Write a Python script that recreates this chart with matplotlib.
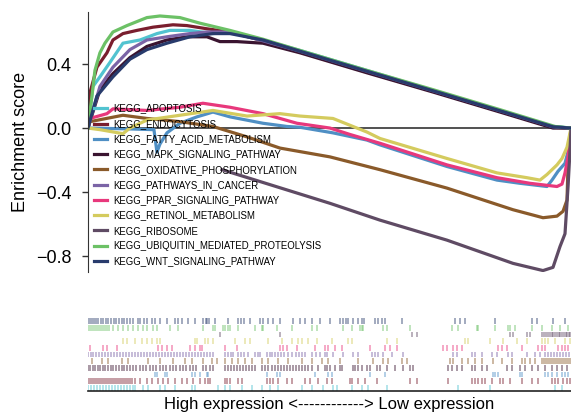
import matplotlib
matplotlib.use("Agg")
import matplotlib.pyplot as plt

plt.rcParams['font.family'] = ['Liberation Sans', 'DejaVu Sans']

# ---- data (x = position in ranked gene list, scaled 0..483) ----
gene_sets = ["KEGG_APOPTOSIS", "KEGG_ENDOCYTOSIS", "KEGG_FATTY_ACID_METABOLISM",
             "KEGG_MAPK_SIGNALING_PATHWAY", "KEGG_OXIDATIVE_PHOSPHORYLATION",
             "KEGG_PATHWAYS_IN_CANCER", "KEGG_PPAR_SIGNALING_PATHWAY",
             "KEGG_RETINOL_METABOLISM", "KEGG_RIBOSOME",
             "KEGG_UBIQUITIN_MEDIATED_PROTEOLYSIS", "KEGG_WNT_SIGNALING_PATHWAY"]
colors = ["#52c3d0", "#7a1e2e", "#4f8fc4", "#3a1430", "#8a5a2a", "#7b64a6",
          "#e8387c", "#d4cb5e", "#5f4b64", "#6cc166", "#283b6c"]

apoptosis_x = [0, 5, 12, 22, 35, 52, 69, 82, 102, 125, 142, 175, 212, 279, 345, 412, 465, 483]
apoptosis_es = [0, 0.26, 0.32, 0.41, 0.53, 0.55, 0.59, 0.61, 0.61, 0.59, 0.60, 0.55, 0.485, 0.36, 0.235, 0.11, 0.01, 0]
endocytosis_x = [0, 1, 2, 9, 19, 25, 35, 49, 65, 85, 99, 119, 142, 175, 212, 279, 345, 412, 465, 483]
endocytosis_es = [0, 0.11, 0.22, 0.38, 0.47, 0.55, 0.59, 0.61, 0.63, 0.645, 0.64, 0.62, 0.60, 0.545, 0.475, 0.35, 0.23, 0.105, 0.005, 0]
fatty_x = [0, 40, 66, 69, 72, 79, 92, 109, 125, 142, 175, 199, 212, 245, 279, 292, 359, 409, 432, 459, 464, 470, 477, 482, 483]
fatty_es = [0, -0.005, -0.01, -0.15, -0.10, -0.03, 0.03, 0.07, 0.10, 0.07, 0.03, 0.01, 0.005, -0.03, -0.075, -0.105, -0.24, -0.325, -0.345, -0.365, -0.325, -0.27, -0.22, -0.10, 0]
mapk_x = [0, 12, 25, 42, 59, 79, 99, 119, 132, 149, 175, 212, 279, 345, 412, 465, 483]
mapk_es = [0, 0.24, 0.34, 0.44, 0.51, 0.55, 0.57, 0.57, 0.54, 0.54, 0.53, 0.47, 0.345, 0.225, 0.10, 0.0, 0]
oxphos_x = [0, 2, 35, 59, 92, 125, 159, 192, 242, 292, 359, 425, 455, 469, 475, 479, 480, 483]
oxphos_es = [0, 0.04, 0.08, 0.06, 0.04, 0.01, -0.055, -0.125, -0.18, -0.26, -0.375, -0.51, -0.56, -0.55, -0.52, -0.45, -0.24, 0]
cancer_x = [0, 12, 25, 42, 59, 79, 102, 119, 142, 175, 212, 279, 345, 412, 465, 483]
cancer_es = [0, 0.26, 0.38, 0.49, 0.55, 0.57, 0.59, 0.60, 0.60, 0.545, 0.48, 0.355, 0.233, 0.108, 0.008, 0]
ppar_x = [0, 2, 19, 25, 59, 92, 115, 142, 175, 192, 209, 242, 262, 292, 359, 409, 442, 469, 474, 477, 480, 483]
ppar_es = [0, 0.06, 0.09, 0.12, 0.11, 0.13, 0.155, 0.13, 0.09, 0.06, 0.03, 0.0, -0.04, -0.095, -0.23, -0.31, -0.345, -0.365, -0.35, -0.28, -0.18, 0]
retinol_x = [0, 12, 35, 42, 59, 92, 125, 159, 192, 212, 245, 279, 292, 359, 409, 439, 452, 459, 469, 474, 479, 483]
retinol_es = [0, -0.01, -0.035, 0.0, 0.05, 0.08, 0.11, 0.075, 0.09, 0.075, 0.06, -0.025, -0.065, -0.19, -0.28, -0.31, -0.325, -0.29, -0.23, -0.19, -0.12, 0]
ribosome_x = [134, 242, 292, 359, 425, 455, 465, 472, 477, 480, 482, 483]
ribosome_es = [-0.26, -0.47, -0.575, -0.70, -0.845, -0.89, -0.87, -0.74, -0.66, -0.37, -0.14, 0]
ubiquitin_x = [0, 4, 7, 12, 17, 25, 39, 59, 72, 92, 112, 142, 175, 212, 279, 345, 412, 467, 483]
ubiquitin_es = [0, 0.2, 0.36, 0.47, 0.53, 0.60, 0.64, 0.69, 0.70, 0.69, 0.655, 0.61, 0.555, 0.485, 0.36, 0.24, 0.115, 0.01, 0]
wnt_x = [0, 9, 25, 42, 59, 79, 102, 125, 142, 175, 212, 279, 345, 412, 465, 483]
wnt_es = [0, 0.20, 0.32, 0.43, 0.49, 0.53, 0.57, 0.59, 0.59, 0.55, 0.48, 0.355, 0.233, 0.108, 0.008, 0]

# gene-set member positions in the ranked list
apoptosis_hits = [0, 3, 6, 9, 12, 15, 18, 21, 24, 27, 30, 33, 36, 39, 42, 45, 47, 55, 60, 72, 77, 87, 104, 107,
                  130, 137, 142, 154, 164, 174, 182, 190, 214, 224, 235, 245, 249, 264, 274, 280, 299, 370, 402, 467, 474]
endocytosis_hits = [0, 2, 4, 6, 8, 10, 12, 14, 16, 18, 20, 22, 24, 26, 28, 30, 32, 34, 36, 38, 40, 42, 44, 47, 52,
                    59, 64, 70, 75, 80, 87, 94, 99, 105, 112, 117, 120, 122, 137, 139, 142, 150, 154, 179, 182, 185,
                    190, 199, 204, 217, 222, 230, 239, 244, 262, 264, 270, 277, 289, 322, 329, 360, 384, 387, 390,
                    394, 397, 404, 412, 415, 422, 434, 444, 450, 464, 467, 470, 475, 479, 482]
fatty_hits = [67, 69, 77, 79, 104, 107, 112, 119, 120, 179, 189, 192, 227, 240, 244, 282, 297, 405, 407, 410,
              432, 434, 457, 460, 464, 469, 474, 477, 480]
mapk_hits = [0, 2, 5, 7, 10, 12, 15, 17, 20, 23, 25, 28, 31, 34, 36, 39, 42, 45, 48, 52, 55, 58, 62, 65, 68, 72,
             75, 78, 82, 85, 88, 92, 95, 98, 102, 105, 108, 115, 118, 122, 125, 137, 140, 143, 146, 149, 152, 155,
             158, 161, 164, 167, 174, 177, 180, 184, 187, 190, 193, 196, 199, 202, 205, 208, 211, 214, 217, 220,
             224, 230, 237, 239, 242, 247, 252, 254, 265, 267, 270, 274, 279, 282, 289, 292, 299, 307, 315, 322,
             325, 360, 364, 369, 374, 384, 387, 394, 399, 419, 424, 432, 437, 444, 450, 457, 464, 469, 474, 479]
oxphos_hits = [4, 14, 20, 34, 40, 60, 72, 85, 97, 104, 115, 124, 129, 137, 144, 150, 157, 164, 174, 180, 190,
               200, 214, 224, 234, 240, 252, 270, 285, 295, 300, 314, 319, 362, 365, 374, 380, 387, 394, 405,
               414, 424, 434, 437, 442, 447, 454, 456, 458, 460, 462, 464, 466, 468, 470, 472, 474, 476, 478,
               480, 482]
cancer_hits = [0, 3, 5, 8, 11, 14, 17, 20, 23, 26, 29, 32, 35, 38, 41, 44, 47, 50, 53, 56, 59, 62, 65, 68, 71,
               74, 77, 80, 83, 86, 89, 92, 95, 98, 101, 104, 107, 110, 113, 116, 119, 122, 125, 137, 140, 143,
               145, 150, 153, 156, 160, 167, 170, 172, 179, 182, 184, 187, 190, 193, 196, 200, 204, 208, 211,
               214, 217, 224, 228, 232, 237, 239, 245, 255, 265, 270, 284, 287, 290, 295, 304, 315, 365, 369,
               384, 387, 394, 404, 409, 420, 424, 439, 447, 452, 457, 460, 463, 466, 469, 472, 475, 478, 481]
ppar_hits = [2, 15, 19, 29, 70, 74, 79, 84, 102, 107, 112, 114, 137, 149, 192, 195, 199, 209, 227, 237, 240,
             247, 254, 282, 297, 302, 309, 355, 359, 365, 369, 374, 410, 414, 419, 434, 450, 454, 457, 470,
             474, 477, 480]
retinol_hits = [35, 39, 47, 54, 59, 64, 69, 72, 107, 109, 117, 120, 125, 147, 157, 162, 180, 194, 204, 210,
                214, 220, 229, 244, 260, 264, 299, 309, 377, 380, 402, 415, 429, 439, 454, 457, 460, 467, 477, 482]
ribosome_hits = [132, 192, 324, 329, 422, 425, 439, 442, 454, 456, 458, 460, 462, 464, 465, 467, 469, 471,
                 472, 474, 476, 478, 479, 481, 482]
ubiquitin_hits = [1, 3, 5, 7, 9, 11, 13, 15, 17, 19, 21, 25, 30, 35, 40, 45, 50, 55, 59, 65, 69, 82, 90, 115,
                  125, 127, 135, 137, 140, 142, 150, 167, 174, 175, 189, 204, 224, 229, 255, 264, 272, 274, 275,
                  295, 299, 322, 364, 370, 389, 390, 407, 420, 422, 427, 444, 454, 464, 472, 480]
wnt_hits = [0, 2, 4, 6, 8, 10, 13, 15, 18, 20, 23, 26, 28, 31, 34, 36, 39, 42, 45, 50, 52, 56, 59, 64, 67, 72,
            79, 87, 90, 94, 100, 107, 115, 118, 119, 121, 127, 140, 150, 153, 156, 162, 172, 175, 180, 185, 192,
            205, 212, 217, 224, 232, 242, 252, 255, 258, 260, 265, 270, 274, 276, 287, 290, 294, 297, 314, 367,
            372, 377, 407, 444, 449, 465, 477]

curves = [(apoptosis_x, apoptosis_es), (endocytosis_x, endocytosis_es), (fatty_x, fatty_es),
          (mapk_x, mapk_es), (oxphos_x, oxphos_es), (cancer_x, cancer_es), (ppar_x, ppar_es),
          (retinol_x, retinol_es), (ribosome_x, ribosome_es), (ubiquitin_x, ubiquitin_es), (wnt_x, wnt_es)]
hits = [apoptosis_hits, endocytosis_hits, fatty_hits, mapk_hits, oxphos_hits, cancer_hits, ppar_hits,
        retinol_hits, ribosome_hits, ubiquitin_hits, wnt_hits]
x_max = 483

# ---- figure ----
fig = plt.figure(figsize=(5.71, 4.13), dpi=100)
ax = fig.add_axes([0.154, 0.341, 0.846, 0.630])
ax2 = fig.add_axes([0.154, 0.053, 0.846, 0.182])

for name, col, (xs, ys) in zip(gene_sets, colors, curves):
    ax.plot(xs, ys, color=col, lw=2.3, label=name, solid_joinstyle='round')
ax.axhline(0, color='#333333', lw=1.2, zorder=1)
ax.set_xlim(0, x_max)
ax.set_ylim(-0.9, 0.725)
ax.set_yticks([0.4, 0.0, -0.4, -0.8])
ax.tick_params(axis='y', labelsize=13, length=4, width=1, color='#333333', pad=8)
ax.set_xticks([])
for s in ['top', 'right', 'bottom']:
    ax.spines[s].set_visible(False)
ax.spines['left'].set_color('#333333')
ax.set_ylabel("Enrichment score", fontsize=13, labelpad=5)
leg = ax.legend(loc='upper left', bbox_to_anchor=(0.0, 0.67), frameon=False, fontsize=6.9,
                handlelength=1.4, handletextpad=0.6, labelspacing=0.55, borderaxespad=0.2)

for i, (col, h) in enumerate(zip(colors, hits)):
    ax2.vlines(h, i + 0.06, i + 0.94, color=col, alpha=0.55, lw=1.1)
ax2.set_xlim(0, x_max)
ax2.set_ylim(0, 11.3)
ax2.set_xticks([])
ax2.set_yticks([])
for s in ['top', 'right', 'left']:
    ax2.spines[s].set_visible(False)
ax2.spines['bottom'].set_color('#222222')
ax2.spines['bottom'].set_linewidth(1.2)
ax2.set_xlabel("High expression <------------> Low expression", fontsize=12, labelpad=4)

fig.savefig("out.png", dpi=100)
